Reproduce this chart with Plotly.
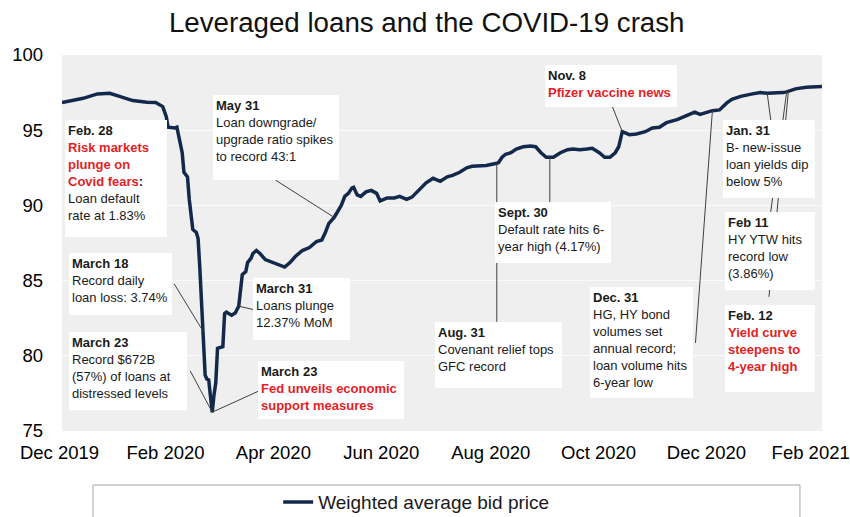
import plotly.graph_objects as go

# Weighted average bid price of the leveraged loan index
dates = [
    "2019-12-29", "2020-01-03", "2020-01-10", "2020-01-18", "2020-01-25", "2020-01-31",
    "2020-02-07", "2020-02-15", "2020-02-20", "2020-02-24", "2020-02-26", "2020-02-27",
    "2020-03-02", "2020-03-03", "2020-03-04", "2020-03-06", "2020-03-07", "2020-03-09",
    "2020-03-10", "2020-03-12", "2020-03-14", "2020-03-15", "2020-03-16", "2020-03-17",
    "2020-03-18", "2020-03-19", "2020-03-20", "2020-03-21", "2020-03-22", "2020-03-23",
    "2020-03-24", "2020-03-25", "2020-03-26", "2020-03-29", "2020-03-30", "2020-03-31",
    "2020-04-03", "2020-04-05", "2020-04-07", "2020-04-08", "2020-04-09", "2020-04-11",
    "2020-04-12", "2020-04-14", "2020-04-15", "2020-04-17", "2020-04-19", "2020-04-22",
    "2020-04-26", "2020-04-30", "2020-05-03", "2020-05-06", "2020-05-09", "2020-05-13",
    "2020-05-17", "2020-05-21", "2020-05-24", "2020-05-26", "2020-05-28", "2020-05-31",
    "2020-06-02", "2020-06-04", "2020-06-06", "2020-06-08", "2020-06-10", "2020-06-11",
    "2020-06-13", "2020-06-15", "2020-06-18", "2020-06-21", "2020-06-24", "2020-06-26",
    "2020-06-30", "2020-07-04", "2020-07-07", "2020-07-11", "2020-07-14", "2020-07-18",
    "2020-07-22", "2020-07-26", "2020-07-30", "2020-08-03", "2020-08-06", "2020-08-10",
    "2020-08-14", "2020-08-17", "2020-08-21", "2020-08-25", "2020-08-31", "2020-09-01",
    "2020-09-03", "2020-09-05", "2020-09-08", "2020-09-11", "2020-09-15", "2020-09-19",
    "2020-09-22", "2020-09-25", "2020-09-28", "2020-09-30", "2020-10-02", "2020-10-06",
    "2020-10-10", "2020-10-13", "2020-10-17", "2020-10-21", "2020-10-24", "2020-10-28",
    "2020-10-31", "2020-11-03", "2020-11-06", "2020-11-08", "2020-11-09", "2020-11-10",
    "2020-11-12", "2020-11-14", "2020-11-18", "2020-11-23", "2020-11-27", "2020-12-01",
    "2020-12-05", "2020-12-11", "2020-12-17", "2020-12-21", "2020-12-24", "2020-12-28",
    "2020-12-31", "2021-01-04", "2021-01-06", "2021-01-08", "2021-01-11", "2021-01-16",
    "2021-01-22", "2021-01-27", "2021-01-31", "2021-02-05", "2021-02-09", "2021-02-11",
    "2021-02-12", "2021-02-16", "2021-02-22", "2021-03-03",
]
bid_price = [
    96.84, 96.95, 97.12, 97.41, 97.45, 97.23,
    96.97, 96.86, 96.84, 96.57, 95.90, 95.20,
    95.15, 95.20, 94.55, 93.50, 92.20, 91.90,
    90.40, 88.40, 88.20, 87.80, 85.80, 83.60,
    81.60, 78.70, 78.45, 78.40, 77.30, 76.25,
    77.40, 78.20, 80.50, 80.60, 82.80, 82.90,
    82.70, 82.85, 83.30, 84.50, 85.40, 85.60,
    86.20, 86.50, 86.80, 87.00, 86.80, 86.40,
    86.20, 86.05, 85.90, 86.20, 86.60, 87.00,
    87.20, 87.60, 87.70, 88.20, 88.80, 89.20,
    89.60, 90.00, 90.60, 90.80, 91.15, 91.20,
    90.70, 90.60, 90.90, 91.00, 90.80, 90.30,
    90.50, 90.50, 90.60, 90.40, 90.55, 91.00,
    91.50, 91.80, 91.60, 91.90, 92.00, 92.20,
    92.50, 92.60, 92.60, 92.65, 92.80, 92.85,
    93.20, 93.40, 93.50, 93.75, 93.90, 93.95,
    93.90, 93.50, 93.20, 93.20, 93.20, 93.50,
    93.70, 93.75, 93.70, 93.75, 93.80, 93.50,
    93.20, 93.20, 93.50, 93.90, 94.50, 94.90,
    94.80, 94.70, 94.75, 94.90, 95.15, 95.20,
    95.50, 95.70, 96.00, 96.20, 96.05, 96.20,
    96.30, 96.35, 96.60, 96.80, 97.05, 97.25,
    97.40, 97.50, 97.45, 97.45, 97.50, 97.55,
    97.60, 97.75, 97.85, 97.90,
]

tick_dates = ["2019-12-31", "2020-02-29", "2020-04-30", "2020-06-30",
              "2020-08-31", "2020-10-31", "2020-12-31", "2021-02-28"]
tick_labels = ["Dec 2019", "Feb 2020", "Apr 2020", "Jun 2020",
               "Aug 2020", "Oct 2020", "Dec 2020", "Feb 2021"]
y_ticks = [75, 80, 85, 90, 95, 100]

price_on = dict(zip(dates, bid_price))

RED = "#e31e24"
INK = "#1a1a1a"
NAVY = "#13294b"
ARIAL = "Liberation Sans, Arial, sans-serif"


def head(s):
    return f"<b>{s}</b>"


def red(s):
    return f"<span style='color:{RED}'><b>{s}</b></span>"


# Callout boxes: text, left / top in paper units, width / height in pixels
notes = [
    (head("Feb. 28") + "<br>" + red("Risk markets") + "<br>" + red("plunge on") + "<br>"
     + red("Covid fears") + head(":") + "<br>Loan default<br>rate at 1.83%",
     0.004, 0.827, 102, 117),
    (head("March 18") + "<br>Record daily<br>loan loss: 3.74%", 0.009, 0.473, 103, 62),
    (head("March 23") + "<br>Record $672B<br>(57%) of loans at<br>distressed levels",
     0.009, 0.263, 118, 78),
    (head("March 23") + "<br>" + red("Fed unveils economic") + "<br>" + red("support measures"),
     0.258, 0.186, 146, 58),
    (head("March 31") + "<br>Loans plunge<br>12.37% MoM", 0.251, 0.407, 97, 62),
    (head("May 31") + "<br>Loan downgrade/<br>upgrade ratio spikes<br>to record 43:1",
     0.1987, 0.894, 126, 85),
    (head("Aug. 31") + "<br>Covenant relief tops<br>GFC record", 0.491, 0.290, 127, 66),
    (head("Sept. 30") + "<br>Default rate hits 6-<br>year high (4.17%)", 0.5697, 0.609, 116, 61),
    (head("Nov. 8") + "<br>" + red("Pfizer vaccine news"), 0.6355, 0.9734, 132, 42),
    (head("Dec. 31") + "<br>HG, HY bond<br>volumes set<br>annual record;<br>loan volume hits<br>6-year low",
     0.6947, 0.383, 103, 111),
    (head("Jan. 31") + "<br>B- new-issue<br>loan yields dip<br>below 5%", 0.8697, 0.827, 92, 78),
    (head("Feb 11") + "<br>HY YTW hits<br>record low<br>(3.86%)", 0.8724, 0.5824, 90, 78),
    (head("Feb. 12") + "<br>" + red("Yield curve") + "<br>" + red("steepens to") + "<br>"
     + red("4-year high"), 0.8724, 0.335, 90, 87),
]

# Leader lines: point on the series, then where the line leaves its box
callouts = [
    ("2020-03-18", "2020-03-01 12:00", 84.78),
    ("2020-03-23", "2020-03-10 13:00", 79.00),
    ("2020-03-23", "2020-04-18 14:00", 77.67),
    ("2020-04-07", "2020-04-15 19:00", 83.06),
    ("2020-05-31", "2020-04-27 17:00", 91.69),
    ("2020-08-31", "2020-08-31", 82.26),
    ("2020-09-30", "2020-09-30", 90.23),
    ("2020-11-10", "2020-11-04 12:00", 96.54),
    ("2020-12-31", "2020-12-21 10:00", 80.86),
    ("2021-01-31", "2021-02-02", 95.68),
    ("2021-02-11", "2021-02-02", 89.57),
    ("2021-02-12", "2021-02-01", 83.92),
]

fig = go.Figure()
fig.add_trace(go.Scatter(
    x=dates, y=bid_price, mode="lines",
    name="Weighted average bid price",
    line=dict(color=NAVY, width=3.5),
))

for tip_date, tail_date, tail_val in callouts:
    fig.add_shape(type="line", xref="x", yref="y",
                  x0=tail_date, y0=tail_val, x1=tip_date, y1=price_on[tip_date],
                  line=dict(color="#404040", width=1), layer="above")

PAD = 3
for text, x, y, w, h in notes:
    fig.add_annotation(
        text=text, xref="paper", yref="paper", x=x, y=y,
        xanchor="left", yanchor="top", showarrow=False,
        width=w - 2 * PAD, height=h - 2 * PAD, align="left", valign="top",
        bgcolor="white", borderpad=PAD, borderwidth=0,
        font=dict(family=ARIAL, size=13, color=INK),
    )

# Frame around the legend
fig.add_shape(type="rect", xref="paper", yref="paper",
              x0=0.0408, x1=0.971, y0=-0.1436, y1=-0.36,
              line=dict(color="#a6a6a6", width=1), fillcolor="rgba(0,0,0,0)")

fig.update_layout(
    width=850, height=517,
    margin=dict(l=62, r=28, t=55, b=86, autoexpand=False),
    paper_bgcolor="white",
    plot_bgcolor="#efefef",
    title=dict(text="Leveraged loans and the COVID-19 crash",
               x=0.502, xref="container", xanchor="center",
               y=1 - 22 / 517, yref="container", yanchor="middle",
               font=dict(family=ARIAL, size=27.7, color="#111111")),
    showlegend=True,
    legend=dict(orientation="h", x=0.466, xanchor="center", y=-0.189, yanchor="middle",
                bgcolor="rgba(0,0,0,0)", borderwidth=0,
                font=dict(family=ARIAL, size=19, color=INK)),
    xaxis=dict(type="date", range=["2019-12-29", "2021-03-03"],
               tickmode="array", tickvals=tick_dates, ticktext=tick_labels,
               showgrid=False, zeroline=False, showline=False, ticks="",
               ticklabelstandoff=8, ticklabelshift=-6,
               ticklabeloverflow="allow", automargin=False,
               tickfont=dict(family=ARIAL, size=18.5, color="#000000")),
    yaxis=dict(range=[75, 100], tickmode="array", tickvals=y_ticks,
               showgrid=True, gridcolor="#fbfbfb", gridwidth=1,
               zeroline=False, showline=False, ticks="", automargin=False,
               ticklabelstandoff=18,
               tickfont=dict(family=ARIAL, size=18.5, color="#000000")),
)

fig.write_html("out.html")
